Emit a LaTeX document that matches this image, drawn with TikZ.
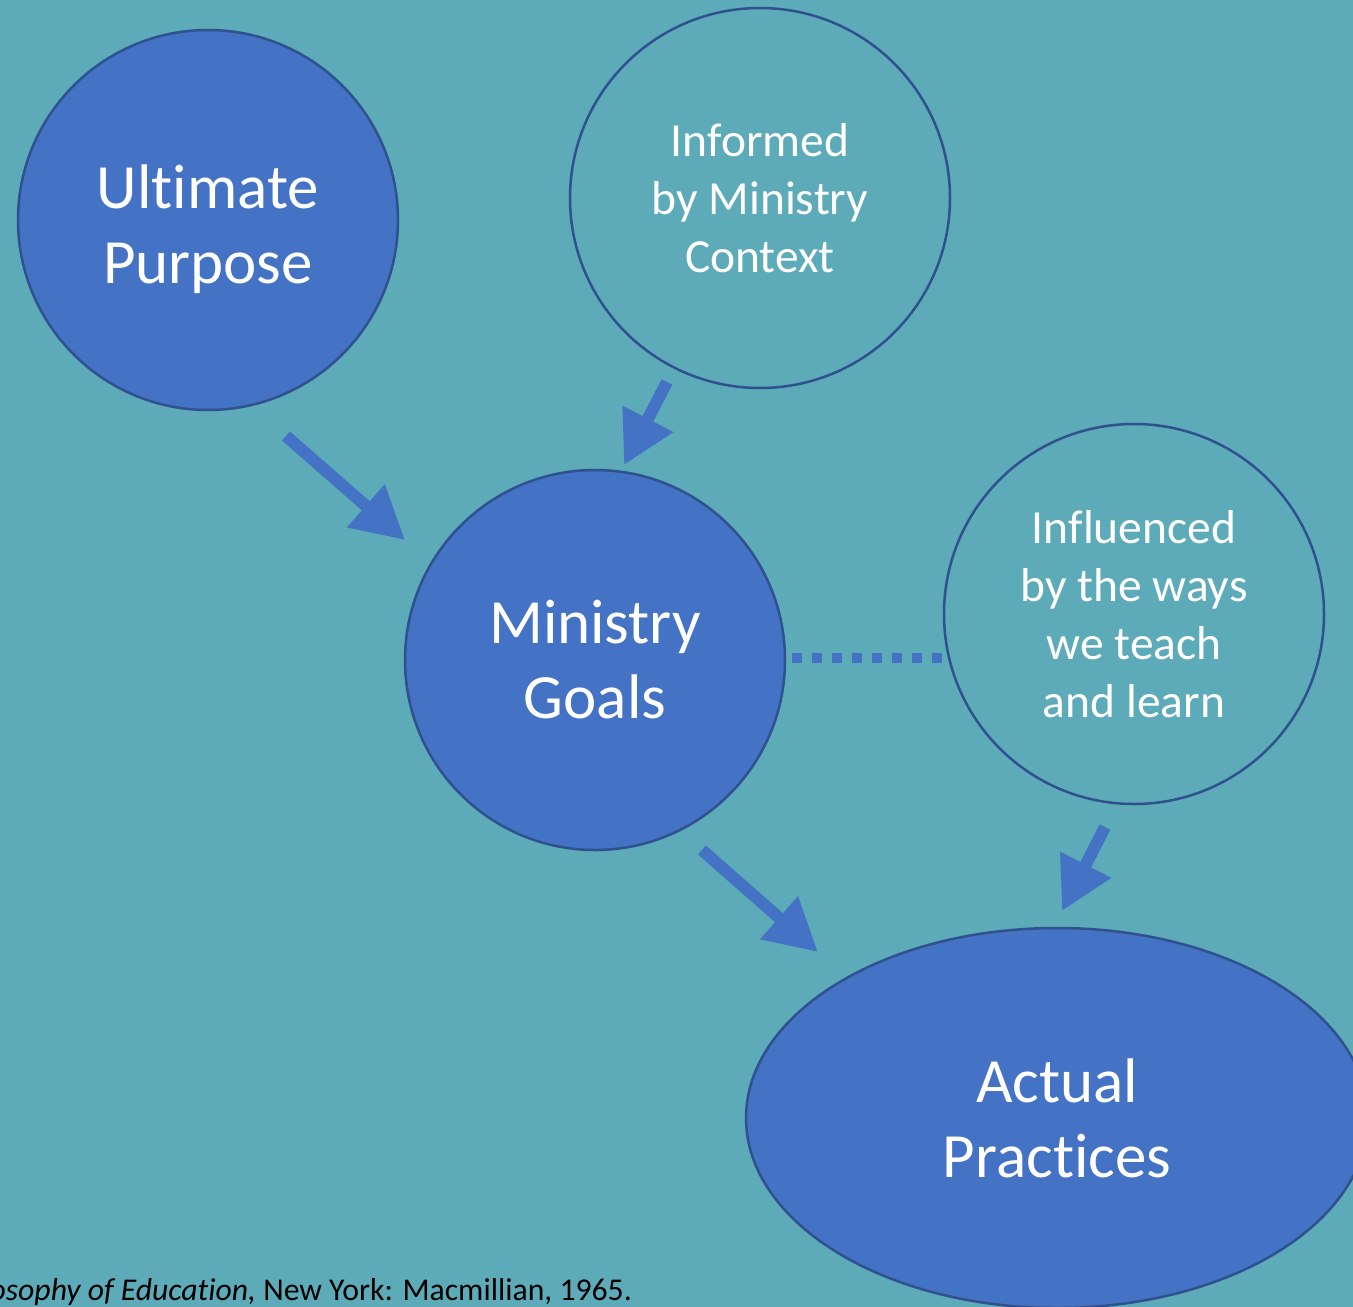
\documentclass[tikz,border=0pt]{standalone}
\usepackage{fontspec}
\setmainfont{Carlito}[Ligatures={NoCommon}]
\usetikzlibrary{arrows.meta,shapes.geometric}
\definecolor{bg}{RGB}{93,170,185}
\definecolor{dark}{RGB}{68,114,196}
\definecolor{rim}{RGB}{47,82,143}
\tikzset{
  bigcirc/.style={circle,draw=rim,line width=2.5pt,fill=dark,minimum size=380pt,inner sep=0pt,
    text=white,align=center,font=\fontsize{63}{75}\selectfont},
  smallcirc/.style={circle,draw=rim,line width=2.5pt,fill=bg,minimum size=380pt,inner sep=0pt,
    text=white,align=center,font=\fontsize{47.5}{58}\selectfont},
  flow/.style={draw=dark,line width=12pt,-{Triangle[length=52pt,width=54pt]}},
  dotline/.style={draw=dark,line width=10pt,dash pattern=on 10pt off 10pt}
}
\begin{document}
\begin{tikzpicture}[x=1pt,y=-1pt]
\useasboundingbox (0,0) rectangle (1353,1307);
\clip (0,0) rectangle (1353,1307);
\fill[bg] (0,0) rectangle (1353,1307);

\node[bigcirc] (up) at (208,220) {\\[-13pt]Ultimate\\Purpose};
\node[smallcirc] (ctx) at (760,198) {Informed\\by Ministry\\Context};
\node[bigcirc] (mg) at (595,660) {Ministry\\Goals};
\node[smallcirc] (inf) at (1134,614) {Influenced\\by the ways\\we teach\\and learn};
\node[ellipse,draw=rim,line width=2.5pt,fill=dark,minimum width=622pt,minimum height=380pt,inner sep=0pt,
  text=white,align=center,font=\fontsize{63}{75}\selectfont] (ap) at (1057,1118) {Actual\\Practices};

\coordinate (a1s) at (286,436);
\coordinate (a1e) at (405,540);
\coordinate (a2s) at (667,382);
\coordinate (a2e) at (624,465);
\coordinate (a3s) at (702,850);
\coordinate (a3e) at (818,952);
\coordinate (a4s) at (1105,827);
\coordinate (a4e) at (1062,911);
\coordinate (d1) at (792,658);
\coordinate (d2) at (942,658);

\draw[flow] (a1s) -- (a1e);
\draw[flow] (a2s) -- (a2e);
\draw[flow] (a3s) -- (a3e);
\draw[flow] (a4s) -- (a4e);
\draw[dotline] (d1) -- (d2);

\node[anchor=base east,inner sep=0pt,font=\fontsize{31.7}{38}\selectfont] (ref) at (632,1300)
  {\textit{osophy of Education,} New York: Macmillian, 1965.};
\end{tikzpicture}
\end{document}
